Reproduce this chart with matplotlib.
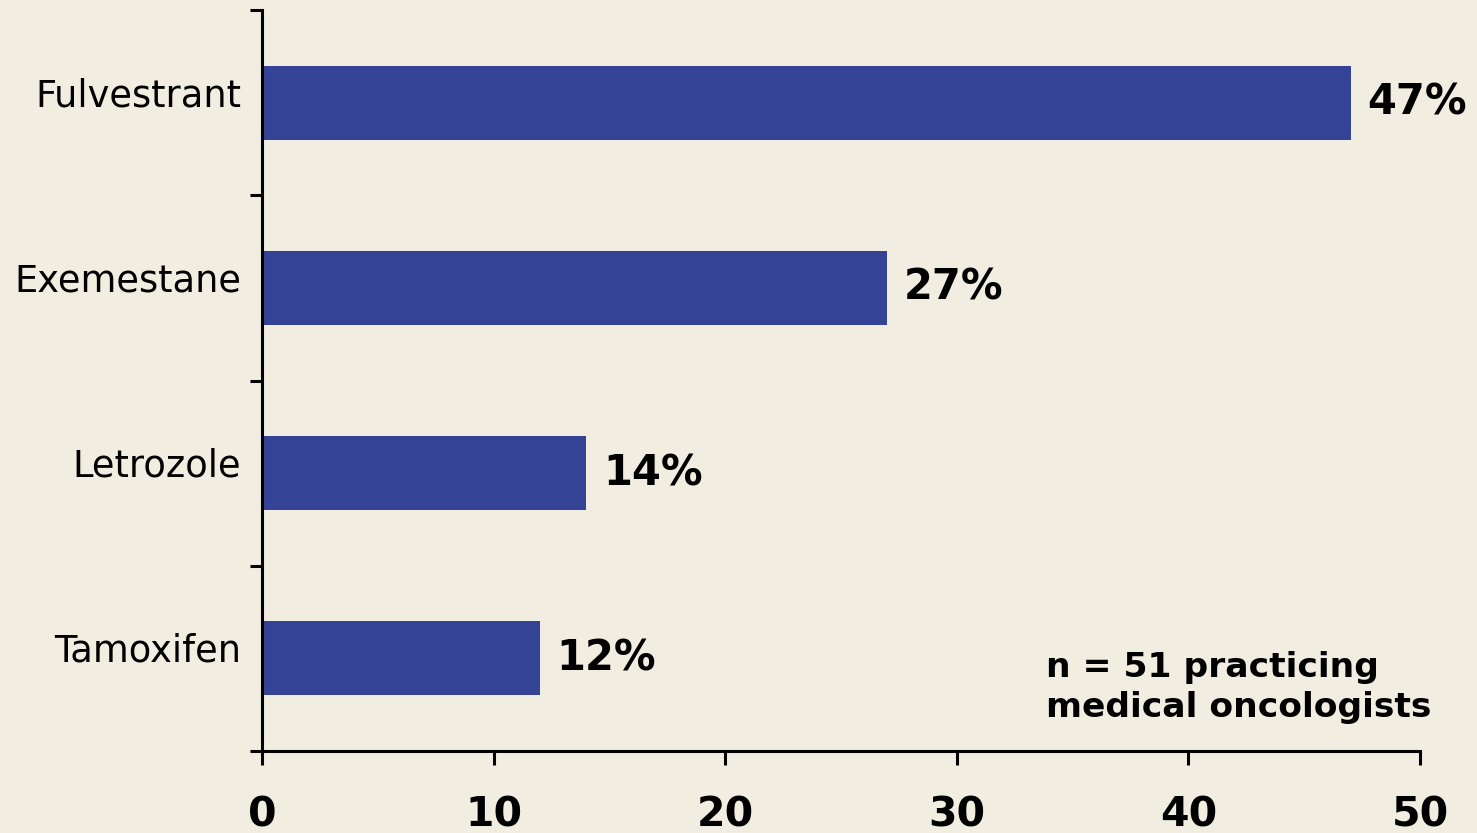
import matplotlib
matplotlib.use("Agg")
import matplotlib.pyplot as plt
import matplotlib.transforms as mtransforms

# Survey data: preferred endocrine agent (% of respondents)
categories = ["Fulvestrant", "Exemestane", "Letrozole", "Tamoxifen"]
percentages = [47, 27, 14, 12]
x_ticks = [0, 10, 20, 30, 40, 50]
note = "n = 51 practicing\nmedical oncologists"

bg = "#F1EDE0"
bar_color = "#354396"

fig = plt.figure(figsize=(14.77, 8.33), dpi=100, facecolor=bg)
ax = fig.add_axes([262 / 1477, 1 - 751 / 833, (1420 - 262) / 1477, (751 - 10) / 833])
ax.set_facecolor(bg)

positions = list(range(len(categories)))
ax.barh(positions, percentages, height=0.4, color=bar_color, zorder=2)

ax.set_xlim(0, 50)
ax.set_ylim(len(categories) - 0.5, -0.5)

# Spines
for side in ("top", "right"):
    ax.spines[side].set_visible(False)
for side in ("left", "bottom"):
    ax.spines[side].set_linewidth(2.2)
    ax.spines[side].set_color("black")

# X axis ticks
ax.set_xticks(x_ticks)
ax.set_xticklabels([str(t) for t in x_ticks], fontsize=29.5, fontweight="bold",
                   family="DejaVu Sans")
ax.tick_params(axis="x", direction="out", length=10, width=2.2, pad=22)

# Y axis: major ticks at category boundaries, labels at category centres
ax.set_yticks([p - 0.5 for p in positions] + [len(categories) - 0.5])
ax.set_yticklabels([])
ax.tick_params(axis="y", which="major", direction="out", length=9, width=2.2)
ax.set_yticks(positions, minor=True)
ax.set_yticklabels(categories, minor=True, fontsize=26.5, family="DejaVu Sans")
ax.tick_params(axis="y", which="minor", length=0, pad=15)
offset = mtransforms.ScaledTranslation(0, 11 / 100, fig.dpi_scale_trans)
for lbl in ax.get_yticklabels(minor=True):
    lbl.set_transform(lbl.get_transform() + offset)

# Value labels
for p, v in zip(positions, percentages):
    ax.annotate(f"{v}%", xy=(v, p), xytext=(12, 0), textcoords="offset points",
                va="center", ha="left", fontsize=30, fontweight="bold",
                clip_on=False)

ax.text(0.677, 0.086, note, transform=ax.transAxes, fontsize=24.8,
        fontweight="bold", ha="left", va="center", linespacing=1.28)

fig.savefig("out.png", dpi=100, facecolor=bg)
